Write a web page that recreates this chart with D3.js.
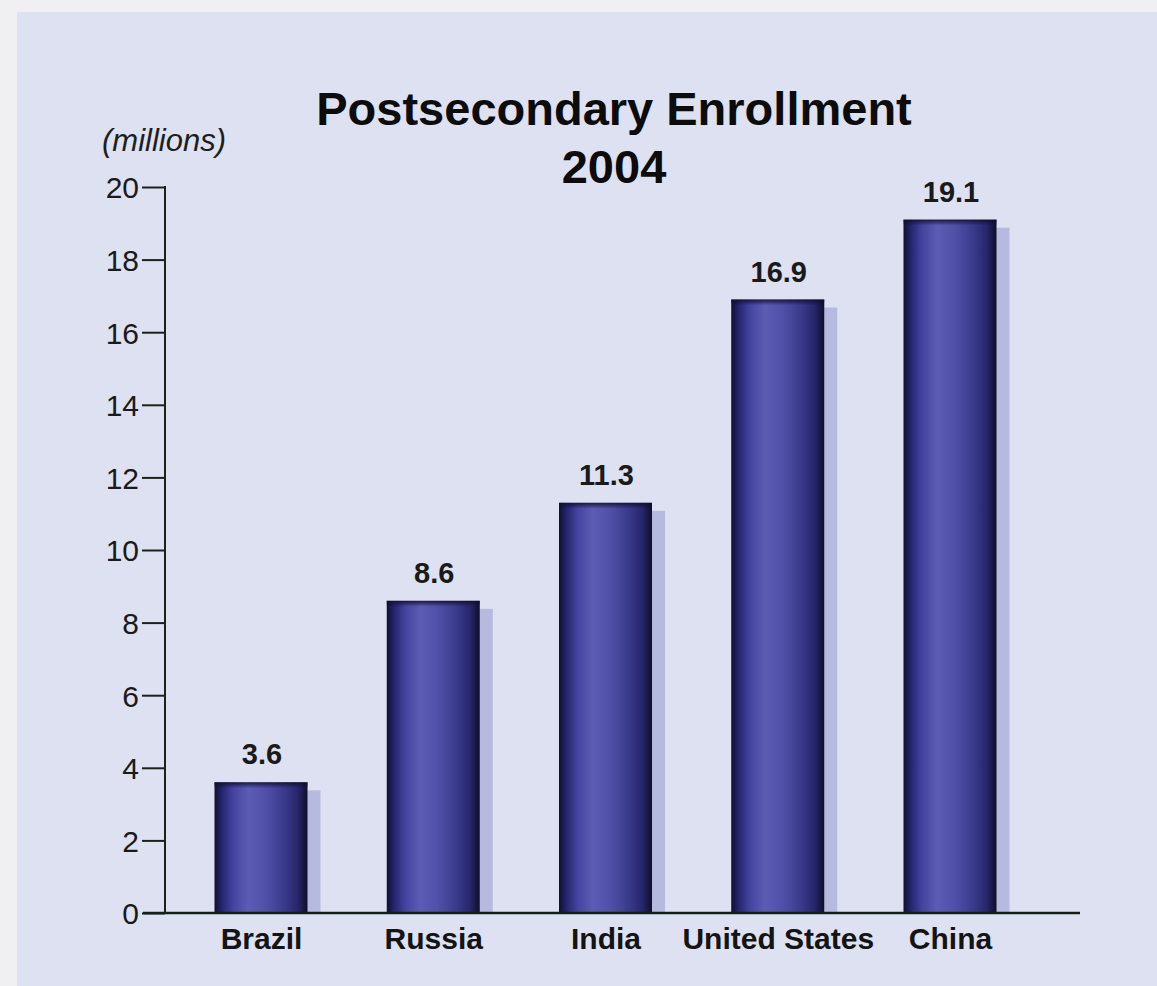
<!DOCTYPE html>
<html>
<head>
<meta charset="utf-8">
<script src="https://cdn.jsdelivr.net/npm/d3@7"></script>
<style>
  html, body { margin: 0; padding: 0; background: #efeff2; }
  svg { display: block; }
</style>
</head>
<body>
<svg id="chart" width="1157" height="986"></svg>
<script>
const categories = ["Brazil", "Russia", "India", "United States", "China"];
const values = [3.6, 8.6, 11.3, 16.9, 19.1];
const valueLabels = ["3.6", "8.6", "11.3", "16.9", "19.1"];
const yTicks = [0, 2, 4, 6, 8, 10, 12, 14, 16, 18, 20];
const titleLines = ["Postsecondary Enrollment", "2004"];
const unitLabel = "(millions)";

const svg = d3.select("#chart");
const W = 1157, H = 986;

// panel background
svg.append("rect").attr("x", 0).attr("y", 0).attr("width", W).attr("height", H).attr("fill", "#f0f0f2");
svg.append("rect").attr("x", 17).attr("y", 12).attr("width", W - 17).attr("height", H - 12).attr("fill", "#dee1f2");

const defs = svg.append("defs");
const grad = defs.append("linearGradient").attr("id", "barGrad")
  .attr("x1", "0%").attr("x2", "100%").attr("y1", "0%").attr("y2", "0%");
[
  [0, "#10102e"], [0.07, "#22226a"], [0.2, "#4444a0"], [0.36, "#5c5cb4"],
  [0.55, "#5050a8"], [0.75, "#3a3a8c"], [0.9, "#25256a"], [1, "#0e0e2a"]
].forEach(([o, c]) => grad.append("stop").attr("offset", o).attr("stop-color", c));

const topGrad = defs.append("linearGradient").attr("id", "topGrad")
  .attr("x1", "0%").attr("x2", "0%").attr("y1", "0%").attr("y2", "100%");
topGrad.append("stop").attr("offset", 0).attr("stop-color", "#0e0e2a").attr("stop-opacity", 0.85);
topGrad.append("stop").attr("offset", 1).attr("stop-color", "#0e0e2a").attr("stop-opacity", 0);

const x = d3.scalePoint().domain(categories).range([261, 950]);
const y = d3.scaleLinear().domain([0, 20]).range([913, 187]);
const barW = 93;

const font = "'Liberation Sans', Arial, Helvetica, sans-serif";

// shadows
svg.append("g").selectAll("rect").data(categories).join("rect")
  .attr("x", d => x(d) - barW / 2 + 13)
  .attr("y", (d, i) => y(values[i]) + 8)
  .attr("width", barW)
  .attr("height", (d, i) => y(0) - y(values[i]) - 8)
  .attr("fill", "#b7badf");

// bars
const bars = svg.append("g");
bars.selectAll("rect.bar").data(categories).join("rect")
  .attr("class", "bar")
  .attr("x", d => x(d) - barW / 2)
  .attr("y", (d, i) => y(values[i]))
  .attr("width", barW)
  .attr("height", (d, i) => y(0) - y(values[i]))
  .attr("fill", "url(#barGrad)");
bars.selectAll("rect.top").data(categories).join("rect")
  .attr("class", "top")
  .attr("x", d => x(d) - barW / 2)
  .attr("y", (d, i) => y(values[i]))
  .attr("width", barW)
  .attr("height", 6)
  .attr("fill", "url(#topGrad)");

// value labels
svg.append("g").selectAll("text").data(categories).join("text")
  .attr("x", d => x(d) + 1)
  .attr("y", (d, i) => y(values[i]) - 18)
  .attr("text-anchor", "middle")
  .attr("font-family", font).attr("font-weight", "bold").attr("font-size", 29)
  .attr("fill", "#1a1a1a")
  .text((d, i) => valueLabels[i]);

// y axis
const yAxis = d3.axisLeft(y).tickValues(yTicks).tickSize(23).tickPadding(3).tickFormat(d3.format("d"));
const gy = svg.append("g").attr("transform", "translate(165,0)").call(yAxis);
gy.select(".domain").remove();
gy.selectAll(".tick line").attr("stroke", "#1a221a").attr("stroke-width", 2);
gy.selectAll(".tick text").attr("font-family", font).attr("font-size", 30)
  .attr("fill", "#1a1a1a").attr("dy", "0.36em");
svg.append("line").attr("x1", 165).attr("x2", 165).attr("y1", y(20) - 1).attr("y2", y(0))
  .attr("stroke", "#1a221a").attr("stroke-width", 2);

// x axis baseline + labels
const xAxis = d3.axisBottom(x).tickSize(0).tickPadding(15);
const gx = svg.append("g").attr("transform", `translate(0,${y(0)})`).call(xAxis);
gx.select(".domain").remove();
gx.selectAll(".tick text").attr("font-family", font).attr("font-weight", "bold").attr("font-size", 30)
  .attr("fill", "#141414").attr("dy", "0.71em");
svg.append("line").attr("x1", 143).attr("x2", 1080).attr("y1", y(0)).attr("y2", y(0))
  .attr("stroke", "#16201a").attr("stroke-width", 2.5);

// unit label
svg.append("text").attr("x", 102).attr("y", 151)
  .attr("font-family", font).attr("font-style", "italic").attr("font-size", 31)
  .attr("fill", "#1e1e1e").text(unitLabel);

// title
svg.append("g").selectAll("text").data(titleLines).join("text")
  .attr("x", 614).attr("y", (d, i) => 125 + i * 58)
  .attr("text-anchor", "middle")
  .attr("font-family", font).attr("font-weight", "bold").attr("font-size", 47)
  .attr("fill", "#0c0c0c").text(d => d);
</script>
</body>
</html>
